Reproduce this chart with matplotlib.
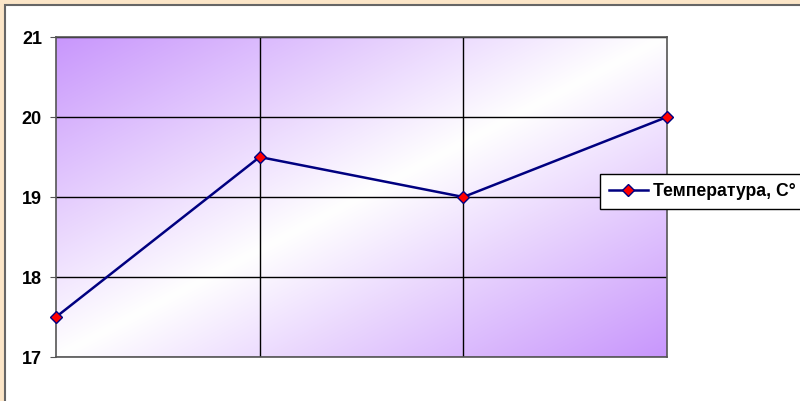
import matplotlib.pyplot as plt
import numpy as np
from matplotlib.patches import Rectangle

plt.rcParams['font.family'] = ['Liberation Sans', 'DejaVu Sans']

# data
points = [0, 1, 2, 3]
temperature = [17.5, 19.5, 19, 20]
y_ticks = [17, 18, 19, 20, 21]
series_label = "Температура, С°"

fig = plt.figure(figsize=(8, 4.01), dpi=100)
fig.patch.set_facecolor('#FCE6C8')

# white chart area with grey frame (cut off at right and bottom)
fig.patches.append(Rectangle((5 / 800, -0.1), 1.1, (396 / 401) + 0.1,
                             transform=fig.transFigure, facecolor='white',
                             edgecolor='#666666', linewidth=1.5, zorder=-10))

ax = fig.add_axes([56 / 800, 44 / 401, 611 / 800, 320 / 401])

# diagonal purple gradient, white along bottom-left -> top-right
n = 300
u, v = np.meshgrid(np.linspace(0, 1, n), np.linspace(1, 0, n))
t = np.abs(v - u)
purple = np.array([200, 150, 252]) / 255.0
img = 1 - t[..., None] * (1 - purple)
ax.imshow(img, extent=[0, 1, 0, 1], transform=ax.transAxes, aspect='auto',
          zorder=0, interpolation='bilinear')

ax.set_xlim(0, 3)
ax.set_ylim(17, 21)
ax.set_xticks([1, 2])
ax.set_xticklabels([])
ax.tick_params(axis='x', length=0)
ax.set_yticks(y_ticks)
ax.tick_params(axis='y', length=4.3, pad=5.8, labelsize=13, color='#555555')
for lbl in ax.get_yticklabels():
    lbl.set_fontweight('bold')
ax.grid(True, color='black', linewidth=1)
ax.set_axisbelow(True)
for sp in ax.spines.values():
    sp.set_color('#555555')
    sp.set_linewidth(1.2)

ax.plot(points, temperature, color='#000080', linewidth=1.8, marker='D',
        markersize=6.5, markerfacecolor='red', markeredgecolor='#000080',
        markeredgewidth=1, label=series_label, clip_on=False, zorder=3)

leg = ax.legend(loc='upper left', bbox_to_anchor=(600 / 800, 227 / 401),
                bbox_transform=fig.transFigure, frameon=True,
                prop={'size': 12.7, 'weight': 'bold'}, borderaxespad=0,
                fancybox=False, edgecolor='black', framealpha=1,
                borderpad=0.5, handlelength=2.2, handletextpad=0.3)
leg.get_frame().set_linewidth(1)

fig.savefig('out.png', dpi=100, facecolor=fig.get_facecolor())
